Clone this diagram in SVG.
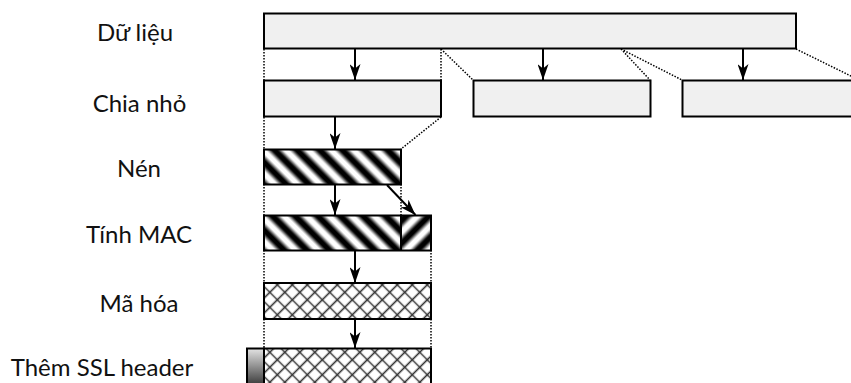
<svg xmlns="http://www.w3.org/2000/svg" width="851" height="383" viewBox="0 0 851 383">
<style>
.lbl{font-family:Lato,"Noto Sans","Liberation Sans",sans-serif;font-size:24px;fill:#111;text-anchor:middle}
.box{stroke:#000;stroke-width:2}
.plain{fill:#f0f0f0}
.arr{stroke:#000;stroke-width:2;fill:none;marker-end:url(#ah)}
.dot{stroke:#000;stroke-width:1.5;stroke-dasharray:1.5 1.5;fill:none}
</style>
<defs>
<marker id="ah" viewBox="0 0 16 11" refX="16" refY="5.5" markerWidth="16" markerHeight="11" markerUnits="userSpaceOnUse" orient="auto">
<path d="M0,0 L16,5.5 L0,11 L4.5,5.5 z" fill="#000"/>
</marker>
<linearGradient id="sg" x1="0" y1="0" x2="1" y2="0">
<stop offset="0" stop-color="#fff"/>
<stop offset="0.12" stop-color="#fff"/>
<stop offset="0.38" stop-color="#000"/>
<stop offset="0.62" stop-color="#000"/>
<stop offset="0.88" stop-color="#fff"/>
<stop offset="1" stop-color="#fff"/>
</linearGradient>
<pattern id="stripeB" patternUnits="userSpaceOnUse" width="16" height="16" patternTransform="rotate(-45)">
<rect width="16" height="16" fill="url(#sg)"/>
</pattern>
<pattern id="stripeF" patternUnits="userSpaceOnUse" width="16" height="16" patternTransform="rotate(45)">
<rect width="16" height="16" fill="url(#sg)"/>
</pattern>
<pattern id="hatch" patternUnits="userSpaceOnUse" width="10.6" height="10.6" patternTransform="rotate(45)">
<rect width="10.6" height="10.6" fill="#fff"/>
<path d="M0,5.3 H10.6 M5.3,0 V10.6" stroke="#333" stroke-width="1.6"/>
</pattern>
<linearGradient id="hg" x1="0" y1="0" x2="0" y2="1">
<stop offset="0" stop-color="#e4e4e4"/>
<stop offset="1" stop-color="#3c3c3c"/>
</linearGradient>
</defs>

<g id="labels">
<text class="lbl" x="135" y="41">Dữ liệu</text>
<text class="lbl" x="139.5" y="112">Chia nhỏ</text>
<text class="lbl" x="139" y="177">Nén</text>
<text class="lbl" x="139" y="243">Tính MAC</text>
<text class="lbl" x="139" y="312">Mã hóa</text>
<text class="lbl" x="102" y="376">Thêm SSL header</text>
</g>

<g id="connectors">
<path class="dot" d="M264,49 V80 M441,49 V80 M441,49 L473,80 M621,49 L650,80 M621,49 L682,80 M796,49 L859,80"/>
<path class="dot" d="M264,117 V149 M441,117 L401,149"/>
<path class="dot" d="M264,184 V215 M401,184 V215"/>
<path class="dot" d="M264,250 V283 M431,250 V283"/>
<path class="dot" d="M264,319 V348 M431,319 V348"/>
<line class="arr" x1="355" y1="49" x2="355" y2="80"/>
<line class="arr" x1="543" y1="49" x2="543" y2="80"/>
<line class="arr" x1="743" y1="49" x2="743" y2="80"/>
<line class="arr" x1="335" y1="117" x2="335" y2="149"/>
<line class="arr" x1="335" y1="185" x2="335" y2="215"/>
<line class="arr" x1="387" y1="185" x2="415.5" y2="215"/>
<line class="arr" x1="355" y1="251" x2="355" y2="283"/>
<line class="arr" x1="355" y1="320" x2="355" y2="348"/>
</g>

<g id="data">
<rect class="box plain" x="264" y="13.5" width="532" height="35"/>
</g>
<g id="fragment1">
<rect class="box plain" x="264" y="80.5" width="177" height="36"/>
</g>
<g id="fragment2">
<rect class="box plain" x="473.5" y="80.5" width="177" height="36"/>
</g>
<g id="fragment3">
<rect class="box plain" x="682.5" y="80.5" width="177" height="36"/>
</g>
<g id="compressed">
<rect class="box" x="264" y="149.5" width="137" height="35" fill="url(#stripeB)"/>
</g>
<g id="mac">
<rect x="264" y="215.5" width="137" height="35" fill="url(#stripeB)"/>
<rect x="401" y="215.5" width="30" height="35" fill="url(#stripeF)"/>
<rect class="box" x="264" y="215.5" width="167" height="35" fill="none"/>
<line x1="401" y1="215.5" x2="401" y2="250.5" stroke="#000" stroke-width="2"/>
</g>
<g id="encrypted">
<rect class="box" x="264" y="283" width="167" height="36" fill="url(#hatch)"/>
</g>
<g id="ssl">
<rect class="box" x="264" y="348.5" width="167" height="36" fill="url(#hatch)"/>
<rect class="box" x="247" y="348.5" width="17" height="36" fill="url(#hg)"/>
</g>
</svg>
